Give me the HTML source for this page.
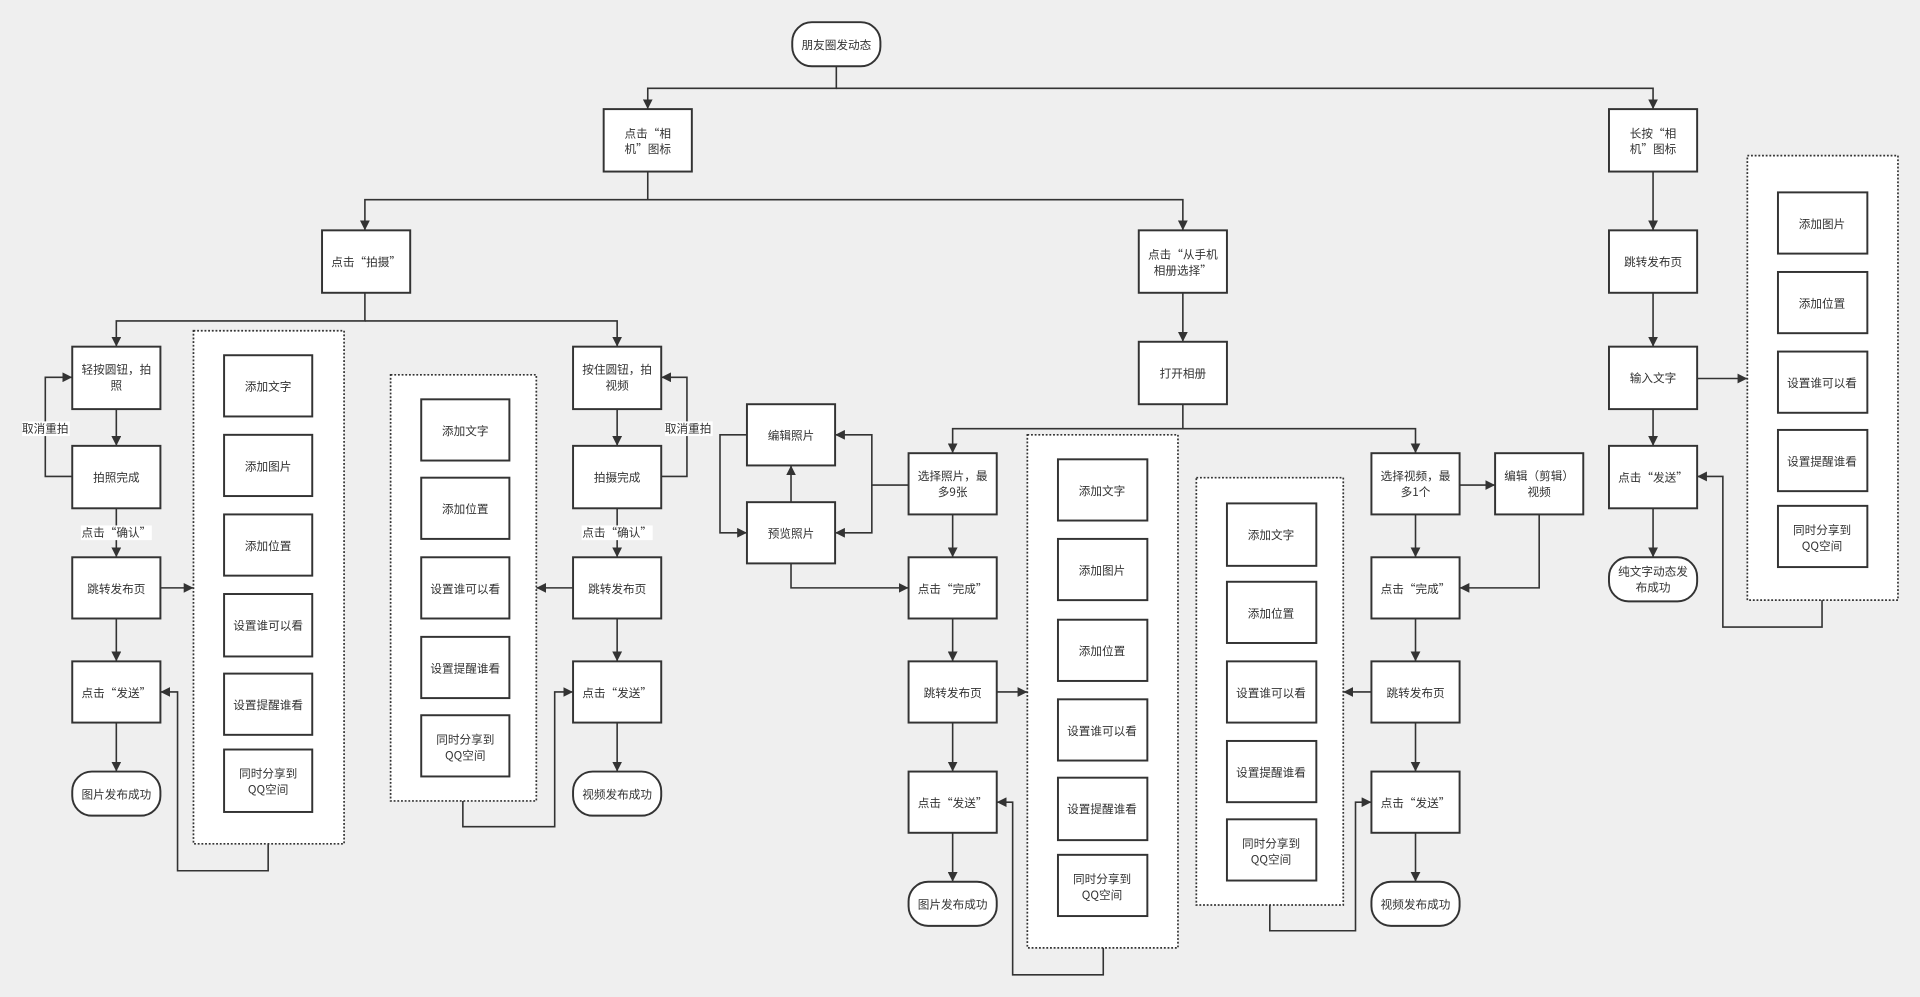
<!DOCTYPE html>
<html><head><meta charset="utf-8"><style>
html,body{margin:0;padding:0;background:#efefef;}
svg{display:block}
text{font-family:"Noto Sans CJK SC","Liberation Sans",sans-serif;font-size:9.5px;fill:#333;text-anchor:middle;}
.b{fill:#fff;stroke:#333;stroke-width:1.6}
.d{fill:#fff;stroke:#333;stroke-width:1.4;stroke-dasharray:1.5 1.5}
.l{fill:none;stroke:#333;stroke-width:1.3}
</style></head><body>
<svg width="1920" height="997" viewBox="0 0 1568 814" xmlns="http://www.w3.org/2000/svg">
<defs><marker id="a" viewBox="0 0 10 10" refX="10" refY="5" markerWidth="8" markerHeight="8" orient="auto" markerUnits="userSpaceOnUse"><path d="M0,0 L10,5 L0,10 z" fill="#333"/></marker></defs>
<rect width="1568" height="814" fill="#efefef"/>

<rect class="d" x="158" y="270" width="123" height="419"/>
<rect class="d" x="319" y="306" width="119" height="348"/>
<rect class="d" x="839" y="355" width="123" height="419"/>
<rect class="d" x="977" y="390" width="120" height="349"/>
<rect class="d" x="1427" y="127" width="123" height="363"/>

<g class="l" marker-end="url(#a)">
<path d="M683,54 V72 H529 V89"/>
<path d="M683,72 H1350 V89"/>
<path d="M529,140 V163 H298 V188"/>
<path d="M529,163 H966 V188"/>
<path d="M298,239 V262 H95 V283"/>
<path d="M298,262 H504 V283"/>
<path d="M95,334 V364"/>
<path d="M59,389 H37 V308 H59"/>
<path d="M95,415 V455"/>
<path d="M95,505 V540"/>
<path d="M95,590 V630"/>
<path d="M131,480 H158"/>
<path d="M219,689 V711 H145 V565 H131"/>
<path d="M504,334 V364"/>
<path d="M540,389 H561 V308 H540"/>
<path d="M504,415 V455"/>
<path d="M504,505 V540"/>
<path d="M504,590 V630"/>
<path d="M468,480 H438"/>
<path d="M378,654 V675 H453 V565 H468"/>
<path d="M966,239 V279"/>
<path d="M966,330 V350 H778 V370"/>
<path d="M966,350 H1156 V370"/>
<path d="M742,396 H712 V355 H682"/>
<path d="M712,396 V435 H682"/>
<path d="M646,410 V380"/>
<path d="M610,355 H588 V435 H610"/>
<path d="M646,460 V480 H742"/>
<path d="M778,420 V455"/>
<path d="M778,505 V540"/>
<path d="M778,590 V630"/>
<path d="M778,680 V720"/>
<path d="M814,565 H839"/>
<path d="M901,774 V796 H827 V655 H814"/>
<path d="M1192,396 H1221"/>
<path d="M1156,420 V455"/>
<path d="M1257,420 V480 H1192"/>
<path d="M1156,505 V540"/>
<path d="M1156,590 V630"/>
<path d="M1156,680 V720"/>
<path d="M1120,565 H1097"/>
<path d="M1037,739 V760 H1107 V655 H1120"/>
<path d="M1350,140 V188"/>
<path d="M1350,239 V283"/>
<path d="M1350,334 V364"/>
<path d="M1350,415 V455"/>
<path d="M1386,309 H1427"/>
<path d="M1488,490 V512 H1407 V389 H1386"/>
</g>

<rect x="18" y="344" width="39" height="12" fill="#fff"/><text x="37" y="353">取消重拍</text>
<rect x="543" y="344" width="39" height="12" fill="#fff"/><text x="562" y="353">取消重拍</text>
<rect x="66" y="429" width="58" height="12" fill="#fff"/><text x="95" y="438">点击“确认”</text>
<rect x="475" y="429" width="58" height="12" fill="#fff"/><text x="504" y="438">点击“确认”</text>

<rect class="b" x="647" y="18" width="72" height="36" rx="16"/><text x="683" y="40">朋友圈发动态</text>
<rect class="b" x="59" y="630" width="72" height="36" rx="16"/><text x="95" y="652">图片发布成功</text>
<rect class="b" x="468" y="630" width="72" height="36" rx="16"/><text x="504" y="652">视频发布成功</text>
<rect class="b" x="742" y="720" width="72" height="36" rx="16"/><text x="778" y="742">图片发布成功</text>
<rect class="b" x="1120" y="720" width="72" height="36" rx="16"/><text x="1156" y="742">视频发布成功</text>
<rect class="b" x="1314" y="455" width="72" height="36" rx="16"/><text x="1350" y="470">纯文字动态发</text><text x="1350" y="483">布成功</text>

<g>
<rect class="b" x="493" y="89" width="72" height="51"/><text x="529" y="112">点击“相</text><text x="529" y="125">机”图标</text>
<rect class="b" x="1314" y="89" width="72" height="51"/><text x="1350" y="112">长按“相</text><text x="1350" y="125">机”图标</text>
<rect class="b" x="263" y="188" width="72" height="51"/><text x="299" y="217">点击“拍摄”</text>
<rect class="b" x="930" y="188" width="72" height="51"/><text x="966" y="211">点击“从手机</text><text x="966" y="224">相册选择”</text>
<rect class="b" x="59" y="283" width="72" height="51"/><text x="95" y="305">轻按圆钮，拍</text><text x="95" y="318">照</text>
<rect class="b" x="59" y="364" width="72" height="51"/><text x="95" y="393">拍照完成</text>
<rect class="b" x="59" y="455" width="72" height="50"/><text x="95" y="484">跳转发布页</text>
<rect class="b" x="59" y="540" width="72" height="50"/><text x="95" y="569">点击“发送”</text>
<rect class="b" x="468" y="283" width="72" height="51"/><text x="504" y="305">按住圆钮，拍</text><text x="504" y="318">视频</text>
<rect class="b" x="468" y="364" width="72" height="51"/><text x="504" y="393">拍摄完成</text>
<rect class="b" x="468" y="455" width="72" height="50"/><text x="504" y="484">跳转发布页</text>
<rect class="b" x="468" y="540" width="72" height="50"/><text x="504" y="569">点击“发送”</text>
<rect class="b" x="930" y="279" width="72" height="51"/><text x="966" y="308">打开相册</text>
<rect class="b" x="610" y="330" width="72" height="50"/><text x="646" y="359">编辑照片</text>
<rect class="b" x="610" y="410" width="72" height="50"/><text x="646" y="439">预览照片</text>
<rect class="b" x="742" y="370" width="72" height="50"/><text x="778" y="392">选择照片，最</text><text x="778" y="405">多9张</text>
<rect class="b" x="742" y="455" width="72" height="50"/><text x="778" y="484">点击“完成”</text>
<rect class="b" x="742" y="540" width="72" height="50"/><text x="778" y="569">跳转发布页</text>
<rect class="b" x="742" y="630" width="72" height="50"/><text x="778" y="659">点击“发送”</text>
<rect class="b" x="1120" y="370" width="72" height="50"/><text x="1156" y="392">选择视频，最</text><text x="1156" y="405">多1个</text>
<rect class="b" x="1221" y="370" width="72" height="50"/><text x="1257" y="392">编辑（剪辑）</text><text x="1257" y="405">视频</text>
<rect class="b" x="1120" y="455" width="72" height="50"/><text x="1156" y="484">点击“完成”</text>
<rect class="b" x="1120" y="540" width="72" height="50"/><text x="1156" y="569">跳转发布页</text>
<rect class="b" x="1120" y="630" width="72" height="50"/><text x="1156" y="659">点击“发送”</text>
<rect class="b" x="1314" y="188" width="72" height="51"/><text x="1350" y="217">跳转发布页</text>
<rect class="b" x="1314" y="283" width="72" height="51"/><text x="1350" y="312">输入文字</text>
<rect class="b" x="1314" y="364" width="72" height="51"/><text x="1350" y="393">点击“发送”</text>
</g>

<rect class="b" x="183" y="290" width="72" height="50"/><text x="219" y="319">添加文字</text>
<rect class="b" x="183" y="355" width="72" height="50"/><text x="219" y="384">添加图片</text>
<rect class="b" x="183" y="420" width="72" height="50"/><text x="219" y="449">添加位置</text>
<rect class="b" x="183" y="485" width="72" height="51"/><text x="219" y="514">设置谁可以看</text>
<rect class="b" x="183" y="550" width="72" height="50"/><text x="219" y="579">设置提醒谁看</text>
<rect class="b" x="183" y="612" width="72" height="51"/><text x="219" y="635">同时分享到</text><text x="219" y="648">QQ空间</text>
<rect class="b" x="344" y="326" width="72" height="50"/><text x="380" y="355">添加文字</text>
<rect class="b" x="344" y="390" width="72" height="50"/><text x="380" y="419">添加位置</text>
<rect class="b" x="344" y="455" width="72" height="50"/><text x="380" y="484">设置谁可以看</text>
<rect class="b" x="344" y="520" width="72" height="50"/><text x="380" y="549">设置提醒谁看</text>
<rect class="b" x="344" y="584" width="72" height="50"/><text x="380" y="607">同时分享到</text><text x="380" y="620">QQ空间</text>
<rect class="b" x="864" y="375" width="73" height="50"/><text x="900" y="404">添加文字</text>
<rect class="b" x="864" y="440" width="73" height="50"/><text x="900" y="469">添加图片</text>
<rect class="b" x="864" y="506" width="73" height="50"/><text x="900" y="535">添加位置</text>
<rect class="b" x="864" y="571" width="73" height="50"/><text x="900" y="600">设置谁可以看</text>
<rect class="b" x="864" y="635" width="73" height="51"/><text x="900" y="664">设置提醒谁看</text>
<rect class="b" x="864" y="698" width="73" height="50"/><text x="900" y="721">同时分享到</text><text x="900" y="734">QQ空间</text>
<rect class="b" x="1002" y="411" width="73" height="51"/><text x="1038" y="440">添加文字</text>
<rect class="b" x="1002" y="475" width="73" height="50"/><text x="1038" y="504">添加位置</text>
<rect class="b" x="1002" y="540" width="73" height="50"/><text x="1038" y="569">设置谁可以看</text>
<rect class="b" x="1002" y="605" width="73" height="50"/><text x="1038" y="634">设置提醒谁看</text>
<rect class="b" x="1002" y="669" width="73" height="50"/><text x="1038" y="692">同时分享到</text><text x="1038" y="705">QQ空间</text>
<rect class="b" x="1452" y="157" width="73" height="50"/><text x="1488" y="186">添加图片</text>
<rect class="b" x="1452" y="222" width="73" height="50"/><text x="1488" y="251">添加位置</text>
<rect class="b" x="1452" y="287" width="73" height="50"/><text x="1488" y="316">设置谁可以看</text>
<rect class="b" x="1452" y="351" width="73" height="50"/><text x="1488" y="380">设置提醒谁看</text>
<rect class="b" x="1452" y="413" width="73" height="50"/><text x="1488" y="436">同时分享到</text><text x="1488" y="449">QQ空间</text>
</svg>
</body></html>
